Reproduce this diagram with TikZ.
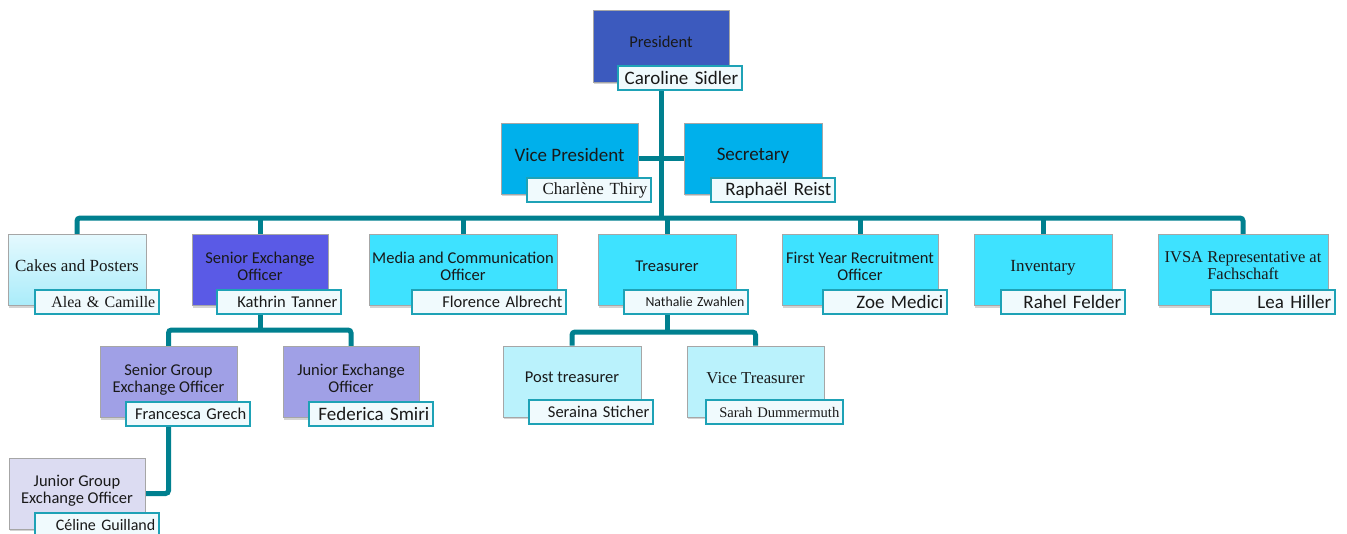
\documentclass[tikz,border=0pt]{standalone}
\usepackage{fontspec}
\setmainfont{Liberation Serif}
\setsansfont{Carlito}
\usetikzlibrary{shadows,backgrounds}
\definecolor{presblue}{RGB}{60,90,190}
\definecolor{vpcyan}{RGB}{0,176,235}
\definecolor{rowcyan}{RGB}{62,226,255}
\definecolor{senexblue}{RGB}{90,90,230}
\definecolor{lavender}{RGB}{160,160,230}
\definecolor{palelav}{RGB}{220,220,242}
\definecolor{palecyan}{RGB}{186,242,252}
\definecolor{cakestop}{RGB}{228,249,254}
\definecolor{cakesbot}{RGB}{170,236,250}
\definecolor{nameline}{RGB}{30,162,182}
\definecolor{namefill}{RGB}{240,250,253}
\definecolor{linkteal}{RGB}{0,128,143}
\tikzset{
  box/.style={rectangle, draw=black!35, line width=0.6pt,
    drop shadow={shadow xshift=1pt, shadow yshift=-2pt, opacity=0.35},
    minimum height=71pt, inner sep=0pt, align=center, text depth=8pt, text=black!90},
  namebox/.style={rectangle, draw=nameline, line width=2pt, fill=namefill,
    minimum height=24pt, inner xsep=4pt, inner ysep=0pt, text width=116pt,
    align=right, anchor=south east, text=black!90},
  link/.style={draw=linkteal, line width=5pt, rounded corners=3pt},
  cal/.style={font=\sffamily\fontsize{#1}{17}\selectfont},
  pal/.style={font=\rmfamily\fontsize{#1}{17}\selectfont},
}
\begin{document}
\begin{tikzpicture}[x=1pt, y=-1pt]
  \useasboundingbox (0,0) rectangle (1347,533);
  % top
  \node[box, fill=presblue, minimum width=136pt, minimum height=72pt, cal=16.5] (pres) at (661,46) {President};
  \node[namebox, cal=19] (pres-n) at ([xshift=14pt,yshift=-9pt]pres.south east) {Caroline Sidler};
  \node[box, fill=vpcyan, minimum width=137pt, cal=19] (vp) at (569.5,158.5) {Vice President};
  \node[namebox, pal=17] (vp-n) at ([xshift=14pt,yshift=-9pt]vp.south east) {Charlène Thiry};
  \node[box, fill=vpcyan, minimum width=138pt, cal=19] (sec) at (753,158.5) {Secretary};
  \node[namebox, cal=19] (sec-n) at ([xshift=14pt,yshift=-9pt]sec.south east) {Raphaël Reist};
  % first row
  \node[box, top color=cakestop, bottom color=cakesbot, minimum width=138pt, pal=17] (cakes) at (77,270) {Cakes and Posters};
  \node[namebox, pal=16] (cakes-n) at ([xshift=14pt,yshift=-9pt]cakes.south east) {Alea \& Camille};
  \node[box, fill=senexblue, minimum width=136pt, cal=16.5] (senex) at (260,270) {Senior Exchange\\Officer};
  \node[namebox, cal=16.5] (senex-n) at ([xshift=14pt,yshift=-9pt]senex.south east) {Kathrin Tanner};
  \node[box, fill=rowcyan, minimum width=188pt, cal=16.5] (media) at (463,270) {Media and Communication\\Officer};
  \node[namebox, text width=146pt, cal=16.5] (media-n) at ([xshift=10pt,yshift=-9pt]media.south east) {Florence Albrecht};
  \node[box, fill=rowcyan, minimum width=138pt, cal=16.5] (treas) at (667,270) {Treasurer};
  \node[namebox, cal=13.8] (treas-n) at ([xshift=13pt,yshift=-9pt]treas.south east) {Nathalie Zwahlen};
  \node[box, fill=rowcyan, minimum width=156pt, cal=16.5] (first) at (860,270) {First Year Recruitment\\Officer};
  \node[namebox, cal=19] (first-n) at ([xshift=10pt,yshift=-9pt]first.south east) {Zoe Medici};
  \node[box, fill=rowcyan, minimum width=138pt, pal=17] (invent) at (1043,270) {Inventary};
  \node[namebox, cal=19] (invent-n) at ([xshift=14pt,yshift=-9pt]invent.south east) {Rahel Felder};
  \node[box, fill=rowcyan, minimum width=170pt, pal=16.5] (ivsa) at (1243,270) {IVSA Representative at\\Fachschaft};
  \node[namebox, cal=19] (ivsa-n) at ([xshift=8pt,yshift=-9pt]ivsa.south east) {Lea Hiller};
  % second row
  \node[box, fill=lavender, minimum width=137pt, cal=16.5] (sgroup) at (168.5,382) {Senior Group\\Exchange Officer};
  \node[namebox, cal=16.5] (sgroup-n) at ([xshift=14pt,yshift=-9pt]sgroup.south east) {Francesca Grech};
  \node[box, fill=lavender, minimum width=136pt, cal=16.5] (jexch) at (351,382) {Junior Exchange\\Officer};
  \node[namebox, cal=19] (jexch-n) at ([xshift=15pt,yshift=-9pt]jexch.south east) {Federica Smiri};
  \node[box, fill=palecyan, minimum width=138pt, cal=16.5] (post) at (572,381.5) {Post treasurer};
  \node[namebox, cal=16.5] (post-n) at ([xshift=13pt,yshift=-8pt]post.south east) {Seraina Sticher};
  \node[box, fill=palecyan, minimum width=137pt, pal=16.7] (vtreas) at (755.5,381.5) {Vice Treasurer};
  \node[namebox, text width=129pt, pal=14.6] (vtreas-n) at ([xshift=20pt,yshift=-8pt]vtreas.south east) {Sarah Dummermuth};
  % third row
  \node[box, fill=palelav, minimum width=136pt, cal=16.5] (jgroup) at (77,493.5) {Junior Group\\Exchange Officer};
  \node[namebox, cal=16] (jgroup-n) at ([xshift=15pt,yshift=-9pt]jgroup.south east) {Céline Guilland};
  % connectors
  \begin{scope}[on background layer]
    \coordinate (bus1) at (0,218);
    \coordinate (bus2) at (0,330);
    \coordinate (bus3) at (0,332);
    \draw[link] (pres) -- (pres |- bus1);
    \draw[link] (vp) -- (sec);
    \draw[link] (cakes.north) |- (ivsa.north |- bus1) -- (ivsa.north);
    \foreach \n in {senex,media,treas,first,invent}
      \draw[link] (\n.north) -- (\n |- bus1);
    \draw[link] (senex) -- (senex |- bus2);
    \draw[link] (sgroup.north) |- (jexch.north |- bus2) -- (jexch.north);
    \draw[link] (sgroup) |- (jgroup.east);
    \draw[link] (treas) -- (treas |- bus3);
    \draw[link] (post.north) |- (vtreas.north |- bus3) -- (vtreas.north);
  \end{scope}
\end{tikzpicture}
\end{document}
